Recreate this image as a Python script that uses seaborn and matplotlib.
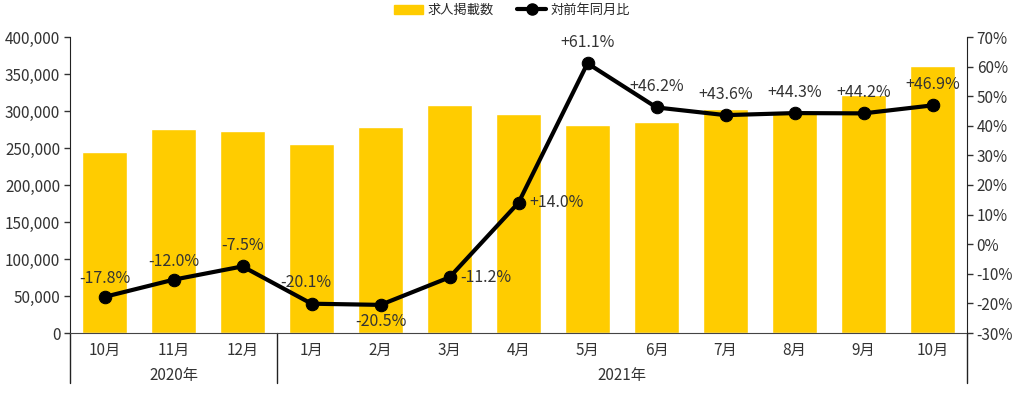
import numpy as np
import pandas as pd
import seaborn as sns
import matplotlib.pyplot as plt
from matplotlib.ticker import FuncFormatter
from matplotlib.lines import Line2D
from matplotlib.patches import Patch

# data
months = ['10月', '11月', '12月', '1月', '2月', '3月', '4月', '5月', '6月', '7月', '8月', '9月', '10月']
years = ['2020年', '2021年']
year_spans = [(0, 2), (3, 12)]
postings = [244000, 275000, 273000, 255000, 278000, 308000, 296000, 281000, 285000, 303000, 299000, 322000, 361000]
yoy = [-17.8, -12.0, -7.5, -20.1, -20.5, -11.2, 14.0, 61.1, 46.2, 43.6, 44.3, 44.2, 46.9]

sns.set_style('white')
plt.rcParams['font.family'] = ['Noto Sans CJK JP', 'DejaVu Sans']

df = pd.DataFrame({'pos': range(len(months)), 'postings': postings, 'yoy': yoy})

fig = plt.figure(figsize=(10.24, 3.93), dpi=100)
ax = fig.add_axes([70 / 1024, 60 / 393, 897 / 1024, 296 / 393])

sns.barplot(data=df, x='pos', y='postings', color='#FFCC00', saturation=1, width=0.65, ax=ax)
ax.set_ylim(0, 400000)
ax.set_xlim(-0.5, len(months) - 0.5)
ax.set_yticks(np.arange(0, 400001, 50000))
ax.yaxis.set_major_formatter(FuncFormatter(lambda v, p: f'{int(v):,}'))
ax.set_xticks([])
ax.set_xlabel('')
ax.set_ylabel('')
ax.tick_params(axis='y', direction='out', length=4, width=1, left=True, labelsize=11, colors='#333333', pad=3)
for s in ['top', 'right']:
    ax.spines[s].set_visible(False)
ax.spines['left'].set_color('#222222')
ax.spines['bottom'].set_color('#444444')

ax2 = ax.twinx()
sns.lineplot(data=df, x='pos', y='yoy', color='black', linewidth=3, marker='o', markersize=9,
             markeredgecolor='black', ax=ax2)
ax2.set_ylim(-30, 70)
ax2.set_xlim(-0.5, len(months) - 0.5)
ax2.set_yticks(np.arange(-30, 71, 10))
ax2.yaxis.set_major_formatter(FuncFormatter(lambda v, p: f'{int(v)}%'))
ax2.set_ylabel('')
ax2.set_xlabel('')
ax2.tick_params(axis='y', direction='out', length=4, width=1, right=True, labelsize=11, colors='#333333', pad=3)
for s in ['top', 'left', 'bottom']:
    ax2.spines[s].set_visible(False)
ax2.spines['right'].set_color('#222222')

# point labels: (dx, dy, ha) in points
offsets = {0: (0, 7, 'center'), 1: (0, 7, 'center'), 3: (-4, 9, 'center'), 4: (0, -6, 'center'),
           5: (8, 0, 'left'), 6: (8, 0, 'left')}
for i, v in enumerate(yoy):
    txt = f'{v:+.1f}%'
    dx, dy, ha = offsets.get(i, (0, 9, 'center'))
    va = 'bottom' if dy > 0 else ('top' if dy < 0 else 'center')
    ax2.annotate(txt, (i, v), xytext=(dx, dy), textcoords='offset points', ha=ha, va=va,
                 fontsize=11.5, color='#333333')

# two-level category labels
trans = ax.get_xaxis_transform()
for i, m in enumerate(months):
    ax.text(i, -0.06, m, transform=trans, ha='center', va='center', fontsize=11, color='#333333')
for (a, b), yname in zip(year_spans, years):
    ax.text((a + b) / 2, -0.145, yname, transform=trans, ha='center', va='center', fontsize=11, color='#333333')
for xb in [-0.5, 2.5, len(months) - 0.5]:
    ax.add_line(Line2D([xb, xb], [0, -0.17], transform=trans, color='#222222', lw=1, clip_on=False))

handles = [Patch(color='#FFCC00'), Line2D([], [], color='black', lw=3, marker='o', markersize=8)]
fig.legend(handles, ['求人掲載数', '対前年同月比'], loc='upper center', bbox_to_anchor=(0.5, 1.02), ncol=2,
           frameon=False, fontsize=9.5, handlelength=2.2, columnspacing=1.8, handletextpad=0.3)

fig.savefig('out.png', dpi=100)
